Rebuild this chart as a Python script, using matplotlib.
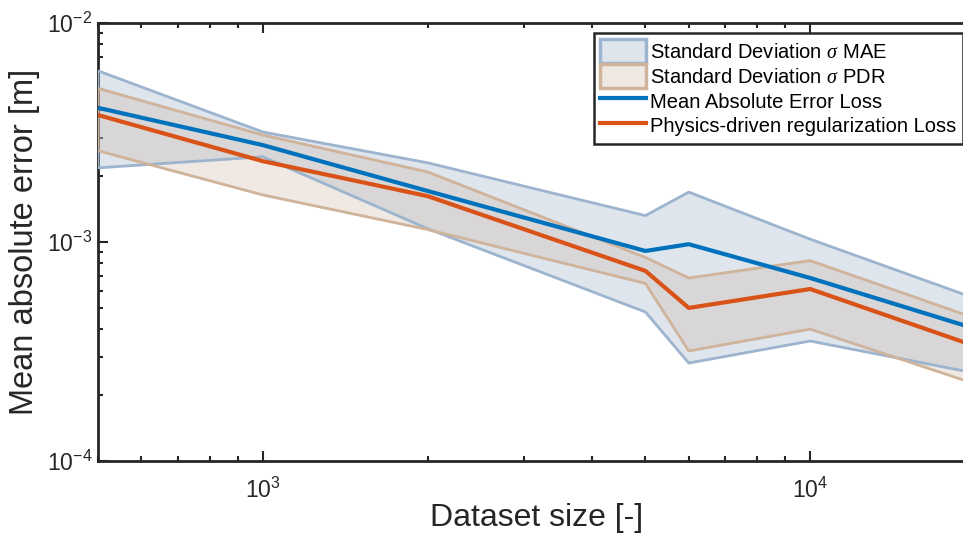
import matplotlib
matplotlib.use("Agg")
import matplotlib.pyplot as plt
from matplotlib.patches import Patch
from matplotlib.lines import Line2D
from matplotlib.ticker import LogLocator, NullFormatter, FixedLocator

plt.rcParams['font.family'] = ['Liberation Sans', 'DejaVu Sans']
plt.rcParams['mathtext.fontset'] = 'custom'
plt.rcParams['mathtext.rm'] = 'Liberation Sans'
plt.rcParams['mathtext.it'] = 'Liberation Serif:italic'

# ---- data ----
dataset_size = [500, 1000, 2000, 5000, 6000, 10000, 20000]
mae_mean  = [4.10e-3, 2.77e-3, 1.71e-3, 9.10e-4, 9.77e-4, 6.85e-4, 4.02e-4]
mae_upper = [6.05e-3, 3.18e-3, 2.30e-3, 1.32e-3, 1.69e-3, 1.03e-3, 5.53e-4]
mae_lower = [2.18e-3, 2.45e-3, 1.15e-3, 4.79e-4, 2.80e-4, 3.53e-4, 2.52e-4]
pdr_mean  = [3.80e-3, 2.34e-3, 1.62e-3, 7.38e-4, 5.00e-4, 6.10e-4, 3.35e-4]
pdr_upper = [5.03e-3, 3.08e-3, 2.09e-3, 8.50e-4, 6.85e-4, 8.22e-4, 4.49e-4]
pdr_lower = [2.61e-3, 1.64e-3, 1.14e-3, 6.47e-4, 3.18e-4, 4.00e-4, 2.25e-4]

legend_labels = [r'Standard Deviation $\sigma$ MAE',
                 r'Standard Deviation $\sigma$ PDR',
                 'Mean Absolute Error Loss',
                 'Physics-driven regularization Loss']
xlabel = 'Dataset size [-]'
ylabel = 'Mean absolute error [m]'

# ---- styling ----
blue = '#0072BD'
orange = '#D95319'
mae_face = (148/255, 172/255, 198/255, 0.30)
mae_edge = '#9cb4cd'
pdr_face = (203/255, 182/255, 164/255, 0.30)
pdr_edge = '#cfb39b'
axcol = '#262626'

fig = plt.figure(figsize=(9.63, 5.44), dpi=100)
ax = fig.add_axes([98/963, 83/544, (975-98)/963, (461-23)/544])

ax.fill_between(dataset_size, mae_lower, mae_upper, facecolor=mae_face,
                edgecolor='none', linewidth=0, zorder=2)
ax.fill_between(dataset_size, pdr_lower, pdr_upper, facecolor=pdr_face,
                edgecolor='none', linewidth=0, zorder=2.1)
# band outlines
ax.fill_between(dataset_size, mae_lower, mae_upper, facecolor='none',
                edgecolor=mae_edge, linewidth=2.0, zorder=3)
ax.fill_between(dataset_size, pdr_lower, pdr_upper, facecolor='none',
                edgecolor=pdr_edge, linewidth=2.0, zorder=3.1)
ax.plot(dataset_size, mae_mean, color=blue, linewidth=3.0, zorder=4)
ax.plot(dataset_size, pdr_mean, color=orange, linewidth=3.0, zorder=5)

ax.set_xscale('log')
ax.set_yscale('log')
ax.set_xlim(500, 20000)
ax.set_ylim(1e-4, 1e-2)

ax.xaxis.set_major_locator(FixedLocator([1e3, 1e4]))
ax.xaxis.set_minor_locator(LogLocator(base=10, subs=range(2, 10)))
ax.xaxis.set_minor_formatter(NullFormatter())
ax.yaxis.set_major_locator(FixedLocator([1e-4, 1e-3, 1e-2]))
ax.yaxis.set_minor_locator(LogLocator(base=10, subs=range(2, 10)))
ax.yaxis.set_minor_formatter(NullFormatter())
ax.set_xticklabels([r'$\mathregular{10^{3}}$', r'$\mathregular{10^{4}}$'])
ax.set_yticklabels([r'$\mathregular{10^{-4}}$', r'$\mathregular{10^{-3}}$', r'$\mathregular{10^{-2}}$'])

ax.tick_params(which='both', direction='in', top=True, right=False, colors=axcol,
               width=1.5, labelsize=16.5)
ax.tick_params(which='major', length=7)
ax.tick_params(which='minor', length=3.8)
ax.tick_params(axis='x', pad=12)
ax.tick_params(axis='y', pad=4)
for s in ax.spines.values():
    s.set_color(axcol)
    s.set_linewidth(2.0)

ax.set_xlabel(xlabel, fontsize=23, color=axcol, labelpad=0)
ax.set_ylabel(ylabel, fontsize=23.5, color=axcol, labelpad=5)

handles = [Patch(facecolor=mae_face, edgecolor=mae_edge, linewidth=2.5),
           Patch(facecolor=pdr_face, edgecolor=pdr_edge, linewidth=2.5),
           Line2D([], [], color=blue, linewidth=3.0),
           Line2D([], [], color=orange, linewidth=3.0)]
leg = ax.legend(handles, legend_labels, loc='upper left',
                bbox_to_anchor=(594/963, 1 - 33/544), bbox_transform=fig.transFigure,
                fontsize=14.5, frameon=True, fancybox=False, framealpha=1,
                edgecolor='#262626', borderpad=0.3, labelspacing=0.05,
                handlelength=2.3, handleheight=1.45, handletextpad=0.2,
                borderaxespad=0)
leg.get_frame().set_linewidth(1.8)
leg.set_zorder(10)

fig.savefig('out.png', dpi=100)
